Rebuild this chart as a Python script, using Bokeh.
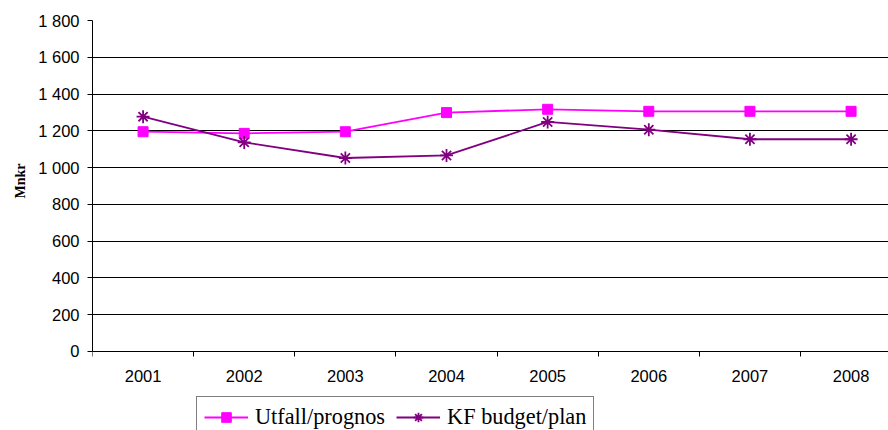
from bokeh.plotting import figure
from bokeh.models import FixedTicker, Legend, LegendItem, Range1d, Title
from bokeh.embed import file_html
from bokeh.resources import INLINE

years = ["2001", "2002", "2003", "2004", "2005", "2006", "2007", "2008"]
utfall = [1195, 1186, 1195, 1299, 1317, 1306, 1306, 1306]
kf_budget = [1277, 1137, 1052, 1066, 1248, 1206, 1154, 1154]
y_ticks = [0, 200, 400, 600, 800, 1000, 1200, 1400, 1600, 1800]
y_tick_labels = ["0", "200", "400", "600", "800", "1 000", "1 200", "1 400", "1 600", "1 800"]

x = list(range(1, len(years) + 1))

# frame runs from y=20 to the bottom of the canvas; value 0 sits 79px above the bottom
y_bottom = -1800 * 79 / 330.5

p = figure(width=888, height=430, output_backend="svg", toolbar_location=None,
           x_range=Range1d(0.5, 8.37), y_range=Range1d(y_bottom, 1800),
           min_border_left=92, min_border_right=0, min_border_top=20, min_border_bottom=0)
p.outline_line_color = None
p.background_fill_color = "white"
p.border_fill_color = "white"

# X axis drawn at value 0: labels at category centres, tick marks at category boundaries
p.xaxis.fixed_location = 0
p.xaxis.ticker = FixedTicker(ticks=x, minor_ticks=[i + 0.5 for i in range(len(years) + 1)])
p.xaxis.major_label_overrides = {xi: yr for xi, yr in zip(x, years)}
p.xaxis.major_tick_out = 0
p.xaxis.major_tick_in = 0
p.xaxis.minor_tick_out = 5
p.xaxis.minor_tick_in = 0
p.xaxis.minor_tick_line_color = "black"
p.xaxis.major_label_standoff = 14
p.xaxis.major_label_text_font = "Liberation Sans"
p.xaxis.major_label_text_font_size = "16.5px"
p.xaxis.major_label_text_color = "black"
p.xaxis.axis_line_color = "black"

p.yaxis.bounds = (0, 1800)
p.yaxis.ticker = FixedTicker(ticks=y_ticks, minor_ticks=[])
p.yaxis.major_label_overrides = {t: l for t, l in zip(y_ticks, y_tick_labels)}
p.yaxis.major_tick_out = 5
p.yaxis.major_tick_in = 0
p.yaxis.major_tick_line_color = "black"
p.yaxis.major_label_standoff = 8
p.yaxis.major_label_text_font = "Liberation Sans"
p.yaxis.major_label_text_font_size = "16.5px"
p.yaxis.major_label_text_color = "black"
p.yaxis.axis_line_color = "black"

ytitle = Title(text="Mnkr", align="right", offset=143, standoff=15,
               text_font="Liberation Serif", text_font_style="bold",
               text_font_size="14px", text_color="black")
p.add_layout(ytitle, "left")

p.xgrid.visible = False
p.ygrid.ticker = FixedTicker(ticks=y_ticks, minor_ticks=[])
p.ygrid.grid_line_color = "black"
p.ygrid.grid_line_width = 1

r1 = p.line(x, utfall, line_color="#FF00FF", line_width=1.8)
m1 = p.scatter(x, utfall, marker="square", size=10, fill_color="#FF00FF", line_color="#FF00FF")
r2 = p.line(x, kf_budget, line_color="#800080", line_width=1.8)
m2 = p.scatter(x, kf_budget, marker="asterisk", size=13, line_color="#800080", line_width=1.8)

legend = Legend(items=[LegendItem(label="Utfall/prognos", renderers=[r1, m1]),
                       LegendItem(label="KF budget/plan", renderers=[r2, m2])],
                location=(104, -8), orientation="horizontal",
                label_text_font="Liberation Serif", label_text_font_size="22.3px",
                label_text_color="black",
                glyph_width=44, glyph_height=24, label_standoff=7, spacing=11,
                padding=7, margin=0, border_line_color="black", border_line_width=1,
                background_fill_color="white", background_fill_alpha=1)
p.add_layout(legend)

open("out.html", "w").write(file_html(p, INLINE))
